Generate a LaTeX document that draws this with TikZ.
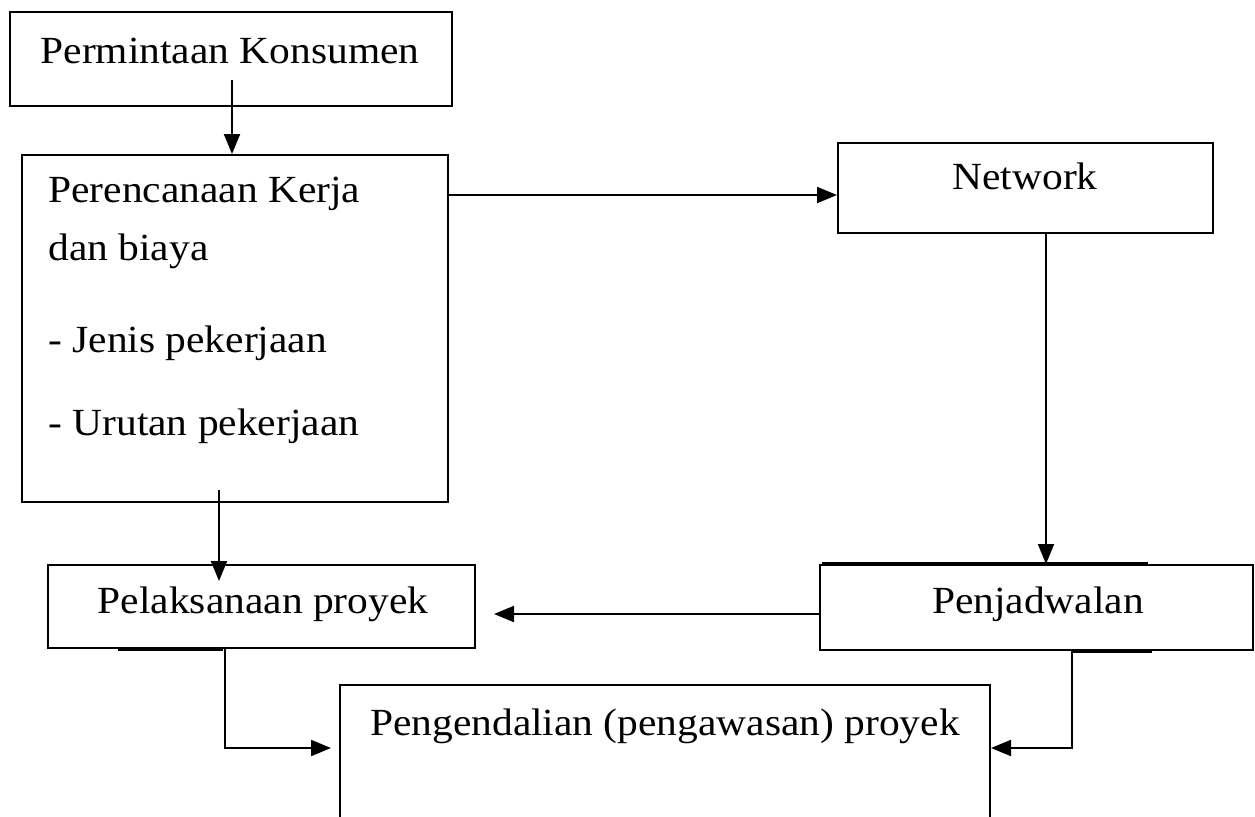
\documentclass[tikz,border=0pt]{standalone}
\usepackage{fontspec}
\setmainfont{Liberation Serif}[FakeStretch=1.08]
\usetikzlibrary{arrows.meta}

\tikzset{
	box/.style={draw, line width=1pt, inner sep=0pt},
	txt/.style={anchor=base, inner sep=0pt, font=\fontsize{19.2}{29}\selectfont},
	arr/.style={line width=1pt, -{Triangle[length=10pt,width=8pt]}},
	heavy/.style={line width=2pt}
}

\begin{document}
\begin{tikzpicture}[x=0.5pt, y=-0.5pt]
		\useasboundingbox (0,0) rectangle (1255,816);
		\clip (0,0) rectangle (1255,816);
		
		%boxes
		\node[box, minimum width=221pt, minimum height=47pt] (konsumen) at (231,59) {};
		\node[box, minimum width=213pt, minimum height=173.5pt] (rencana) at (235,328.5) {};
		\node[box, minimum width=187.5pt, minimum height=45pt] (netw) at (1025.5,188) {};
		\node[box, minimum width=216.5pt, minimum height=42.5pt] (jadwal) at (1036.5,607.5) {};
		\node[box, minimum width=213.5pt, minimum height=41.5pt] (laksana) at (261.5,606.5) {};
		\node[box, minimum width=325pt, minimum height=77.5pt] (kendali) at (665,762.5) {};
		
		%texts
		\node[txt] (konsumentxt) at (230,63) {Permintaan Konsumen};
		\node[txt] (netwtxt) at (1025,189) {Network};
		\node[txt] (jadwaltxt) at (1038,613) {Penjadwalan};
		\node[txt] (laksanatxt) at (263,613) {Pelaksanaan proyek};
		\node[txt] (kendalitxt) at (665,735) {Pengendalian (pengawasan) proyek};
		\foreach \y/\t [count=\i] in {202/Perencanaan Kerja, 260/dan biaya, 352/- Jenis pekerjaan, 435/- Urutan pekerjaan}{
			\node[txt, anchor=base west] (item\i) at (48,\y) {\t};
		}
		
		%thick bits on the box edges
		\draw[heavy] (118,649) -- (223,649);
		\draw[heavy] (822,564) -- (1148,564);
		\draw[heavy] (1072,651) -- (1152,651);
		
		%arrows
		\coordinate (k1) at (232,80);
		\draw[arr] (k1) -- (k1 |- rencana.north);
		
		\coordinate (r1) at (448,195);
		\draw[arr] (r1) -- (r1 -| netw.west);
		
		\coordinate (n1) at (1046,233);
		\draw[arr] (n1) -- (n1 |- jadwal.north);
		
		\coordinate (j1) at (820,614);
		\draw[arr, shorten >=9pt] (j1) -- (j1 -| laksana.east);
		
		\coordinate (r2) at (219,490);
		\draw[arr, shorten >=-8.5pt] (r2) -- (r2 |- laksana.north);
		
		\coordinate (l1) at (225,649);
		\draw[arr, shorten >=4pt] (l1) |- ([yshift=7.25pt]kendali.west);
		
		\coordinate (p1) at (1072,650);
		\draw[arr] (p1) |- ([yshift=7.25pt]kendali.east);
\end{tikzpicture}
\end{document}
